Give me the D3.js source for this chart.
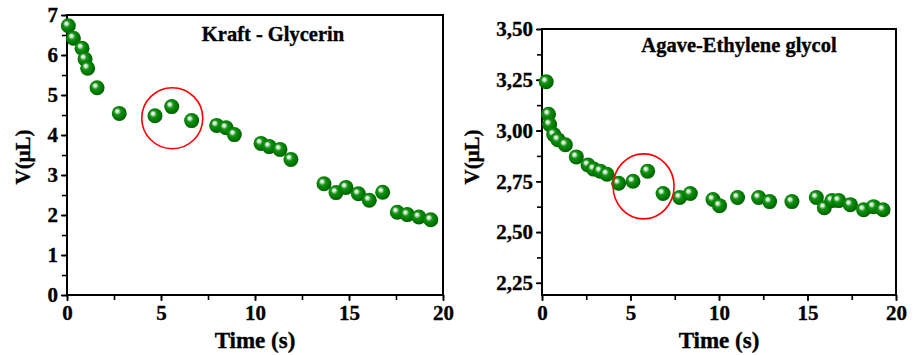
<!DOCTYPE html>
<html>
<head>
<meta charset="utf-8">
<script src="https://cdn.jsdelivr.net/npm/d3@7"></script>
<style>
    body { margin: 0; background: #fff; }
    text { font-family: "Liberation Serif", "Times New Roman", serif; font-weight: bold; fill: #000; stroke: #000; stroke-width: 0.35px; }
    .domain { display: none; }
</style>
</head>
<body>
<div class="chart"></div>
<script>
// values
var kraftTime = [0.07, 0.34, 0.80, 0.96, 1.10, 1.60, 2.78, 4.68, 5.57, 6.63, 7.96, 8.46, 8.90,
    10.32, 10.76, 11.33, 11.91, 13.67, 14.31, 14.84, 15.50, 16.08, 16.79, 17.57, 18.10, 18.72, 19.35];
var kraftVol = [6.73, 6.42, 6.17, 5.90, 5.67, 5.18, 4.54, 4.48, 4.71, 4.36, 4.24, 4.18, 4.01,
    3.79, 3.71, 3.64, 3.39, 2.78, 2.56, 2.69, 2.53, 2.37, 2.57, 2.07, 2.01, 1.95, 1.88];

var agaveTime = [0.24, 0.37, 0.43, 0.66, 0.90, 1.32, 1.94, 2.60, 2.92, 3.29, 3.67, 4.33, 5.14, 5.97,
    6.84, 7.78, 8.38, 9.66, 10.03, 11.05, 12.24, 12.86, 14.12, 15.50, 15.95, 16.38, 16.76, 17.42,
    18.17, 18.73, 19.27];
var agaveVol = [3.24, 3.08, 3.03, 2.98, 2.955, 2.93, 2.87, 2.83, 2.81, 2.80, 2.785, 2.74, 2.75, 2.80,
    2.69, 2.67, 2.69, 2.66, 2.63, 2.67, 2.67, 2.65, 2.65, 2.67, 2.62, 2.655, 2.655, 2.635,
    2.61, 2.625, 2.61];

var timeTicks = [0, 5, 10, 15, 20];
var kraftTicks = [0, 1, 2, 3, 4, 5, 6, 7];
var agaveTicks = [2.25, 2.50, 2.75, 3.00, 3.25, 3.50];

var kraftMark = [5.6, 4.42];
var agaveMark = [5.74, 2.725];

var width = 917;
var height = 355;
var comma = d3.formatLocale({decimal: ",", thousands: ".", grouping: [3], currency: ["", ""]});

function build_svg( c ){
    var s = c.append("svg").attr("width", width).attr("height", height);
    var grad = s.append("defs").append("radialGradient")
        .attr("id", "ball").attr("cx", "45%").attr("cy", "45%").attr("r", "60%")
        .attr("fx", "35%").attr("fy", "33%");
    grad.append("stop").attr("offset", "0%").attr("stop-color", "#ffffff");
    grad.append("stop").attr("offset", "16%").attr("stop-color", "#d0e8d0");
    grad.append("stop").attr("offset", "38%").attr("stop-color", "#159215");
    grad.append("stop").attr("offset", "72%").attr("stop-color", "#007800");
    grad.append("stop").attr("offset", "100%").attr("stop-color", "#005800");
    return s;
}

function build_panel( s, p ){
    var x = d3.scaleLinear().domain([0, 20]).range([p.left, p.right]);
    var y = d3.scaleLinear().domain(p.ydom).range([p.bottom, p.top]);
    var g = s.append("g");

    // minor ticks
    var xMinor = d3.range(0, 20.01, 2.5);
    g.append("g").attr("transform", "translate(0," + p.bottom + ")")
        .call(d3.axisBottom(x).tickValues(xMinor).tickSize(5).tickFormat(""));
    var yMinor = d3.range(p.ydom[0] < 0.5 ? 0 : p.ticks[0], p.ydom[1] + 0.001, p.minor);
    g.append("g").attr("transform", "translate(" + p.left + ",0)")
        .call(d3.axisLeft(y).tickValues(yMinor).tickSize(5).tickFormat(""));

    g.append("g").attr("transform", "translate(0," + p.bottom + ")")
        .call(d3.axisBottom(x).tickValues(timeTicks).tickSize(6).tickPadding(4).tickFormat(d3.format("d")));
    g.append("g").attr("transform", "translate(" + p.left + ",0)")
        .call(d3.axisLeft(y).tickValues(p.ticks).tickSize(6).tickPadding(3).tickFormat(p.fmt));
    g.selectAll(".tick line").attr("stroke", "#000").attr("stroke-width", 1.6);
    g.selectAll(".tick text").style("font-size", "21px").attr("font-family", null);

    // frame
    g.append("rect").attr("x", p.left).attr("y", p.top)
        .attr("width", p.right - p.left).attr("height", p.bottom - p.top)
        .attr("fill", "none").attr("stroke", "#000").attr("stroke-width", 2);

    g.selectAll(".ball")
        .data(p.tx.map(function(d, i){ return {t: d, v: p.vy[i]}; }))
        .enter().append("circle")
        .attr("class", "ball")
        .attr("cx", function(d){ return x(d.t); })
        .attr("cy", function(d){ return y(d.v); })
        .attr("r", 7.5)
        .attr("fill", "url(#ball)");

    g.append("ellipse")
        .attr("cx", x(p.mark[0])).attr("cy", y(p.mark[1]))
        .attr("rx", 30.5).attr("ry", p.ry)
        .attr("fill", "none").attr("stroke", "#ff0000").attr("stroke-width", 1.6);

    g.append("text").attr("x", p.titleX).attr("y", p.titleY)
        .attr("text-anchor", "middle").style("font-size", "20.5px").text(p.title);

    g.append("text").attr("x", (p.left + p.right) / 2).attr("y", 348)
        .attr("text-anchor", "middle").style("font-size", "23px").text("Time (s)");

    g.append("text").attr("transform", "translate(" + p.ylabX + ",157) rotate(-90)")
        .attr("text-anchor", "middle").style("font-size", "21px").text("V(\u03bcL)");
}

function main(){
    var container = d3.select(".chart");
    var svg = build_svg(container);
    build_panel(svg, {
        left: 67, right: 443, top: 15, bottom: 295,
        ydom: [0, 7], ticks: kraftTicks, minor: 0.5, fmt: d3.format("d"),
        tx: kraftTime, vy: kraftVol, mark: kraftMark, ry: 30.5,
        title: "Kraft - Glycerin", titleX: 273, titleY: 41, ylabX: 30
    });
    build_panel(svg, {
        left: 542, right: 896, top: 29, bottom: 295,
        ydom: [2.19, 3.5], ticks: agaveTicks, minor: 0.125, fmt: comma.format(".2f"),
        tx: agaveTime, vy: agaveVol, mark: agaveMark, ry: 32.5,
        title: "Agave-Ethylene glycol", titleX: 739, titleY: 52, ylabX: 479
    });
}

main();
</script>
</body>
</html>
